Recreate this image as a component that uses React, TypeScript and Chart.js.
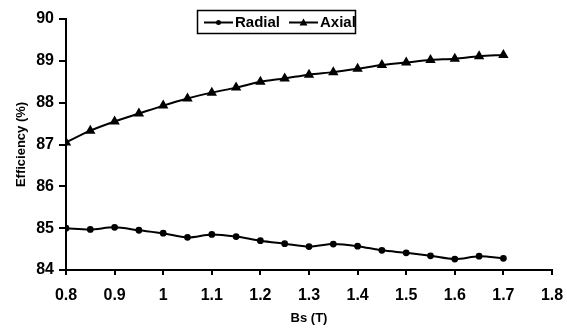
import React, { useEffect, useRef } from "react";
import { Chart, registerables } from "chart.js";

Chart.register(...registerables);

const bsValues = [0.8, 0.85, 0.9, 0.95, 1.0, 1.05, 1.1, 1.15, 1.2, 1.25, 1.3, 1.35, 1.4, 1.45, 1.5, 1.55, 1.6, 1.65, 1.7];
const radial = [85.0, 84.97, 85.02, 84.95, 84.88, 84.78, 84.85, 84.8, 84.7, 84.63, 84.56, 84.62, 84.57, 84.47, 84.41, 84.34, 84.26, 84.33, 84.28];
const axial = [87.05, 87.33, 87.55, 87.74, 87.93, 88.1, 88.24, 88.36, 88.5, 88.58, 88.67, 88.73, 88.81, 88.9, 88.96, 89.02, 89.05, 89.11, 89.14];
const xTickLabels = ["0.8", "0.9", "1", "1.1", "1.2", "1.3", "1.4", "1.5", "1.6", "1.7", "1.8"];
const yTickLabels = ["84", "85", "86", "87", "88", "89", "90"];
const seriesNames = ["Radial", "Axial"];

const FONT = "'Liberation Sans', Arial, sans-serif";

const legendPlugin = {
  id: "boxLegend",
  afterDraw(chart: any) {
    const ctx = chart.ctx;
    ctx.save();
    const bx = 197.5, by = 10.5, bw = 158, bh = 23;
    ctx.fillStyle = "#fff";
    ctx.fillRect(bx, by, bw, bh);
    ctx.strokeStyle = "#000";
    ctx.lineWidth = 1.5;
    ctx.strokeRect(bx, by, bw, bh);
    const cy = 22.5;
    const items = [
      { x0: 204, x1: 233, style: "circle", tx: 235 },
      { x0: 289, x1: 318, style: "triangle", tx: 320 },
    ];
    ctx.font = `bold 15px ${FONT}`;
    ctx.textBaseline = "middle";
    items.forEach((it, i) => {
      ctx.strokeStyle = "#000";
      ctx.lineWidth = 2;
      ctx.beginPath();
      ctx.moveTo(it.x0, cy);
      ctx.lineTo(it.x1, cy);
      ctx.stroke();
      const mx = (it.x0 + it.x1) / 2;
      ctx.fillStyle = "#000";
      ctx.beginPath();
      if (it.style === "circle") {
        ctx.arc(mx, cy, 2.5, 0, Math.PI * 2);
      } else {
        ctx.moveTo(mx, cy - 4);
        ctx.lineTo(mx + 4, cy + 3);
        ctx.lineTo(mx - 4, cy + 3);
        ctx.closePath();
      }
      ctx.fill();
      ctx.fillStyle = "#000";
      ctx.fillText(seriesNames[i], it.tx, cy + 0.5);
    });
    ctx.restore();
  },
};

export default function App() {
  const ref = useRef<HTMLCanvasElement>(null);
  useEffect(() => {
    if (!ref.current) return;
    const chart = new Chart(ref.current, {
      type: "line",
      data: {
        datasets: [
          {
            label: seriesNames[0],
            data: bsValues.map((x, i) => ({ x, y: radial[i] })),
            borderColor: "#000",
            backgroundColor: "#000",
            borderWidth: 2,
            pointStyle: "circle",
            pointRadius: 2.4,
            tension: 0.3,
          },
          {
            label: seriesNames[1],
            data: bsValues.map((x, i) => ({ x, y: axial[i] })),
            borderColor: "#000",
            backgroundColor: "#000",
            borderWidth: 2,
            pointStyle: "triangle",
            pointRadius: 4,
            tension: 0.3,
          },
        ],
      },
      options: {
        responsive: false,
        animation: false,
        layout: { padding: { top: 19, right: 15, left: 0, bottom: 0 } },
        plugins: { legend: { display: false }, tooltip: { enabled: false } },
        scales: {
          x: {
            type: "linear",
            min: 0.8,
            max: 1.8,
            afterBuildTicks: (s: any) => {
              s.ticks = xTickLabels.map((l) => ({ value: parseFloat(l) }));
            },
            afterFit: (s: any) => {
              s.height = 59;
              s.paddingLeft = 0;
              s.paddingRight = 0;
            },
            ticks: {
              color: "#000",
              font: { family: FONT, size: 16, weight: "bold" },
              padding: 11,
              maxRotation: 0,
              autoSkip: false,
              callback: (v: any, i: number) => xTickLabels[i],
            },
            grid: { display: true, drawOnChartArea: false, drawTicks: true, tickLength: 5, color: "#000", lineWidth: 2 },
            border: { display: true, color: "#000", width: 2 },
            title: {
              display: true,
              text: "Bs (T)",
              color: "#000",
              font: { family: FONT, size: 13, weight: "bold" },
              padding: { top: 0, bottom: 3 },
            },
          },
          y: {
            type: "linear",
            min: 84,
            max: 90,
            afterBuildTicks: (s: any) => {
              s.ticks = yTickLabels.map((l) => ({ value: parseFloat(l) }));
            },
            afterFit: (s: any) => {
              s.width = 66;
              s.paddingTop = 0;
              s.paddingBottom = 0;
            },
            ticks: {
              color: "#000",
              font: { family: FONT, size: 16, weight: "bold" },
              padding: 5,
              callback: (v: any, i: number) => yTickLabels[i],
            },
            grid: { display: true, drawOnChartArea: false, drawTicks: true, tickLength: 7, color: "#000", lineWidth: 2 },
            border: { display: true, color: "#000", width: 2 },
            title: {
              display: true,
              text: "Efficiency (%)",
              color: "#000",
              font: { family: FONT, size: 13, weight: "bold" },
              padding: { top: 14, bottom: 0 },
            },
          },
        },
      },
      plugins: [legendPlugin],
    } as any);
    return () => chart.destroy();
  }, []);
  return (
    <div style={{ position: "fixed", left: 0, top: 0, width: 567, height: 329, background: "#fff" }}>
      <canvas ref={ref} width={567} height={329} style={{ display: "block" }} />
    </div>
  );
}
